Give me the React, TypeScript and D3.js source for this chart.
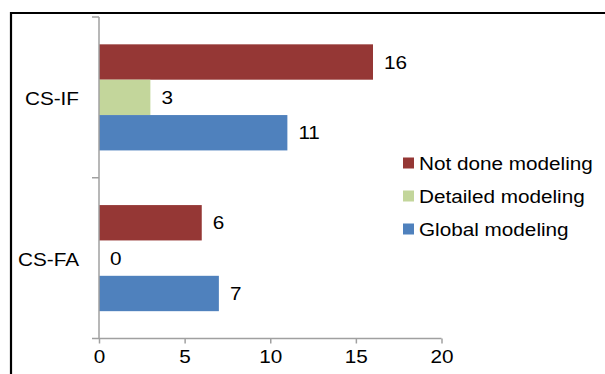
import { useEffect, useRef } from "react";
import * as d3 from "d3";

const categories = ["CS-IF", "CS-FA"];
const seriesNames = ["Not done modeling", "Detailed modeling", "Global modeling"];
const seriesColors = ["#953735", "#c3d69b", "#4f81bd"];
const notDoneValues = [16, 6];
const detailedValues = [3, 0];
const globalValues = [11, 7];
const xTicks = [0, 5, 10, 15, 20];

const App = () => {
    const chartRef = useRef<SVGSVGElement | null>(null);

    useEffect(() => {
        if (!chartRef.current) return;
        const svg = d3.select(chartRef.current);
        svg.selectAll("*").remove();

        const width = 605;
        const height = 374;
        const font = "'Liberation Sans', Arial, sans-serif";
        const fontSize = 18.5;
        const stretch = "scale(1.12,1)";
        const axisColor = "#a0a0a0";

        svg.attr("width", width).attr("height", height);
        svg.append("rect").attr("width", width).attr("height", height).attr("fill", "#fff");

        // frame (only left and top edges are visible)
        svg.append("path")
            .attr("d", `M11,${height} V13 H${width}`)
            .attr("fill", "none")
            .attr("stroke", "#000")
            .attr("stroke-width", 2.2);

        const x = d3.scaleLinear().domain([0, 20]).range([99, 441.5]);
        const y = d3.scaleBand().domain(categories).range([17, 338.5]).paddingInner(0.34).paddingOuter(0.17);
        const sub = d3.scaleBand().domain(seriesNames).range([0, y.bandwidth()]);

        const seriesValues = [notDoneValues, detailedValues, globalValues];

        // bars
        seriesNames.forEach((name, s) => {
            const g = svg.append("g");
            categories.forEach((cat, i) => {
                const v = seriesValues[s][i];
                const top = y(cat)! + sub(name)!;
                g.append("rect")
                    .attr("x", x(0))
                    .attr("y", top)
                    .attr("width", x(v) - x(0))
                    .attr("height", sub.bandwidth())
                    .attr("fill", seriesColors[s]);
                g.append("text")
                    .attr("transform", `translate(${x(v) + 11},${top + sub.bandwidth() / 2}) ${stretch}`)
                    .attr("dy", "0.36em")
                    .attr("font-family", font)
                    .attr("font-size", fontSize)
                    .attr("fill", "#000")
                    .text(v);
            });
        });

        // y axis (ticks on category boundaries)
        const [r0, r1] = y.range();
        const yAxis = svg.append("g");
        yAxis.append("line")
            .attr("x1", x(0)).attr("x2", x(0))
            .attr("y1", r0).attr("y2", r1)
            .attr("stroke", axisColor).attr("stroke-width", 1.5);
        categories.forEach((cat, i) => {
            const yb = r0 + i * y.step();
            yAxis.append("line")
                .attr("x1", x(0) - 7).attr("x2", x(0))
                .attr("y1", yb).attr("y2", yb)
                .attr("stroke", axisColor).attr("stroke-width", 1.5);
            yAxis.append("text")
                .attr("transform", `translate(${x(0) - 20},${y(cat)! + y.bandwidth() / 2 + 1}) ${stretch}`)
                .attr("dy", "0.36em")
                .attr("text-anchor", "end")
                .attr("font-family", font)
                .attr("font-size", fontSize)
                .attr("fill", "#000")
                .text(cat);
        });

        // x axis
        const xAxis = svg.append("g")
            .attr("transform", `translate(0,${r1})`)
            .call(d3.axisBottom(x).tickValues(xTicks).tickSize(5).tickSizeOuter(0).tickPadding(6));
        xAxis.select(".domain").remove();
        xAxis.append("line")
            .attr("x1", x(0) - 7).attr("x2", x(20))
            .attr("stroke", axisColor).attr("stroke-width", 1.5);
        xAxis.selectAll(".tick line").attr("stroke", axisColor).attr("stroke-width", 1.5);
        xAxis.selectAll(".tick text")
            .attr("transform", stretch)
            .attr("font-family", font)
            .attr("font-size", fontSize)
            .attr("fill", "#000");

        // legend
        const legend = svg.append("g").attr("transform", "translate(403,163)");
        seriesNames.forEach((name, s) => {
            const row = legend.append("g").attr("transform", `translate(0,${s * 33})`);
            row.append("rect")
                .attr("x", 0).attr("y", -5.5)
                .attr("width", 11).attr("height", 11)
                .attr("fill", seriesColors[s]);
            row.append("text")
                .attr("transform", `translate(16,0) ${stretch}`)
                .attr("dy", "0.36em")
                .attr("font-family", font)
                .attr("font-size", fontSize)
                .attr("fill", "#000")
                .text(name);
        });
    }, []);

    return (
        <div style={{ position: "absolute", left: 0, top: 0 }}>
            <svg ref={chartRef} style={{ display: "block" }}></svg>
        </div>
    );
};

export default App;
